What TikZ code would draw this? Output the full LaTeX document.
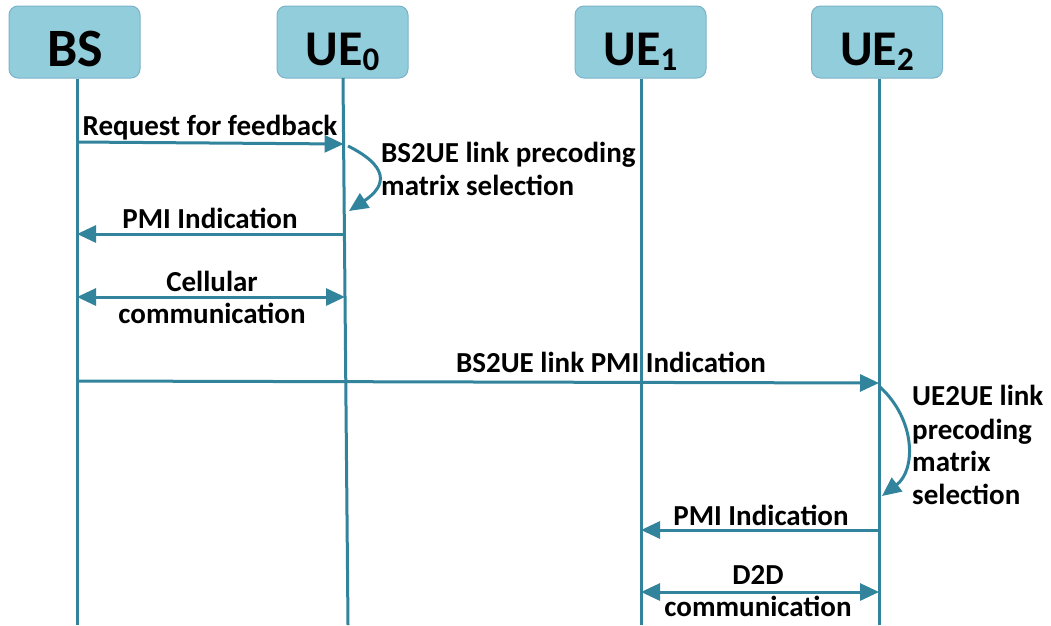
\documentclass[tikz,border=0pt]{standalone}
\usepackage{fontspec}
\setmainfont{Carlito}
\usetikzlibrary{arrows.meta}
\definecolor{boxfill}{HTML}{92CDDC}
\definecolor{boxline}{HTML}{7AB3C9}
\definecolor{seqteal}{HTML}{31849B}
\begin{document}
\begin{tikzpicture}[x=1pt,y=-1pt,
  hdr/.style={draw=boxline, fill=boxfill, line width=1pt, rounded corners=9pt,
    minimum width=131pt, minimum height=72pt, inner sep=0pt},
  hdrtext/.style={font=\bfseries\fontsize{50}{50}\selectfont, anchor=base, inner sep=0pt},
  life/.style={draw=seqteal, line width=3pt},
  tipA/.tip={Triangle[length=19pt,width=17pt]},
  msg/.style={draw=seqteal, line width=3pt, -tipA},
  msgboth/.style={draw=seqteal, line width=3pt, tipA-tipA},
  lbl/.style={font=\bfseries\fontsize{29}{29}\selectfont, inner sep=0pt, anchor=base},
  lblw/.style={lbl, anchor=base west}
]
\useasboundingbox (0,0) rectangle (1051,625);
\fill[white] (0,0) rectangle (1051,625);

% header boxes
\node[hdr] (bs)  at (74.5,42) {};
\node[hdr] (ue0) at (342.5,42) {};
\node[hdr] (ue1) at (640.5,42) {};
\node[hdr] (ue2) at (877,42) {};
\node[hdrtext, font=\bfseries\fontsize{54}{54}\selectfont] (bsT) at ([yshift=-24pt,xshift=1pt]bs.center) {BS};
\node[hdrtext] (ue0T) at ([yshift=-23pt]ue0.center) {UE\raisebox{-5pt}{\fontsize{33}{33}\selectfont 0}};
\node[hdrtext] (ue1T) at ([yshift=-23pt]ue1.center) {UE\raisebox{-5pt}{\fontsize{33}{33}\selectfont 1}};
\node[hdrtext] (ue2T) at ([yshift=-23pt]ue2.center) {UE\raisebox{-5pt}{\fontsize{33}{33}\selectfont 2}};

% lifelines
\coordinate (bsE) at (77,625);
\coordinate (ue0E) at (348,625);
\coordinate (ue1E) at (641,625);
\coordinate (ue2E) at (879,625);
\draw[life] (bs.south -| bsE) -- (bsE);
\draw[life] (343,78) coordinate (ue0S) -- (ue0E);
\draw[life] (ue1.south -| ue1E) -- (ue1E);
\draw[life] (ue2.south -| ue2E) -- (ue2E);

% message endpoints
\coordinate (m1a) at (77,142);
\coordinate (m1b) at (343.6,144);
\coordinate (c1a) at (348,146);
\coordinate (c1b) at (349,211);
\coordinate (m2a) at (344.4,234);
\coordinate (m2b) at (77,234);
\coordinate (m3a) at (77,297);
\coordinate (m3b) at (345,297);
\coordinate (m4a) at (77,381);
\coordinate (m4b) at (879,383);
\coordinate (c2a) at (880,387);
\coordinate (c2b) at (882,496);
\coordinate (m5a) at (879,530);
\coordinate (m5b) at (641,530);
\coordinate (m6a) at (641,592);
\coordinate (m6b) at (879,592);

\draw[msg] (m1a) -- (m1b);
\draw[msg] (c1a) .. controls (388,166) and (388,185) .. (c1b);
\draw[msg] (m2a) -- (m2b);
\draw[msgboth] (m3a) -- (m3b);
\draw[msg] (m4a) -- (m4b);
\draw[msg] (c2a) .. controls (916,420) and (916,470) .. (c2b);
\draw[msg] (m5a) -- (m5b);
\draw[msgboth] (m6a) -- (m6b);

% labels
\node[lbl] (l1) at (210,135) {Request for feedback};
\node[lblw] (l2a) at (381,162) {BS2UE link precoding};
\node[lblw] (l2b) at (381,195) {matrix selection};
\node[lbl] (l3) at (210,228) {PMI Indication};
\node[lbl] (l4a) at (212,291) {Cellular};
\node[lbl] (l4b) at (212,323) {communication};
\node[lbl] (l5) at (611,372) {BS2UE link PMI Indication};
\node[lblw] (l6a) at (912,405) {UE2UE link};
\node[lblw] (l6b) at (912,439) {precoding};
\node[lblw] (l6c) at (912,471) {matrix};
\node[lblw] (l6d) at (912,504) {selection};
\node[lbl] (l7) at (761,525) {PMI Indication};
\node[lbl] (l8a) at (758,584) {D2D};
\node[lbl] (l8b) at (758,616) {communication};
\end{tikzpicture}
\end{document}
